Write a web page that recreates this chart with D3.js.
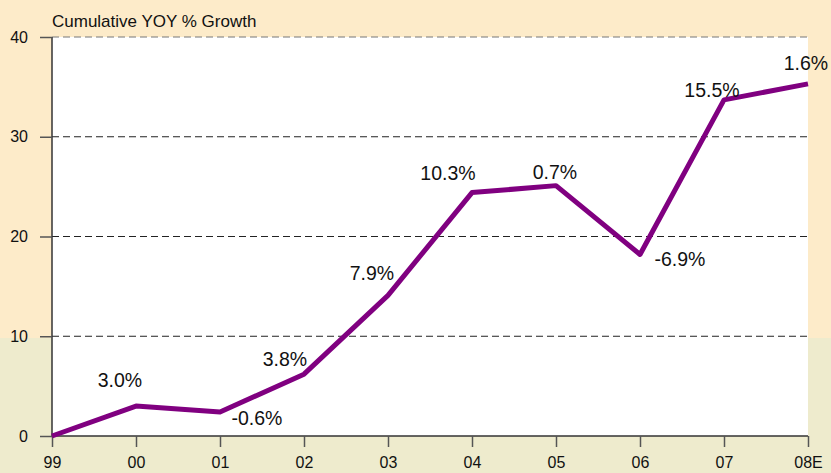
<!DOCTYPE html>
<html>
<head>
<meta charset="utf-8">
<script src="https://cdn.jsdelivr.net/npm/d3@7"></script>
<style>
  body { margin: 0; padding: 0; }
  svg { display: block; font-family: "Liberation Sans", Arial, sans-serif; }
</style>
</head>
<body>
<svg id="chart" width="831" height="473"></svg>
<script>
var years = ["99", "00", "01", "02", "03", "04", "05", "06", "07", "08E"];
var cumulative = [0, 3.0, 2.4, 6.2, 14.1, 24.4, 25.1, 18.2, 33.7, 35.3];
var growthLabels = [null, "3.0%", "-0.6%", "3.8%", "7.9%", "10.3%", "0.7%", "-6.9%", "15.5%", "1.6%"];
var yTicks = [0, 10, 20, 30, 40];

// label offsets from each point (layout only)
var labelOffsets = [null, [-16, -19], [37, 13], [-19, -8], [-16, -15], [-24, -13], [-1, -7], [40, 12], [-12, -3], [-2, -14]];

var svg = d3.select("#chart"),
  margin = { top: 37, right: 23, bottom: 37, left: 52 },
  width = 831 - margin.left - margin.right,
  height = 473 - margin.top - margin.bottom;

// background: peach on top, pale green below
svg.append("rect").attr("width", 831).attr("height", 473).attr("fill", "#fdebc9");
svg.append("rect").attr("x", 0).attr("y", 338).attr("width", 831).attr("height", 135).attr("fill", "#eeebcd");

var x = d3.scalePoint().domain(years).range([0, width]);
var y = d3.scaleLinear().domain([0, 40]).range([height, 0]);

var g = svg.append("g").attr("transform", "translate(" + margin.left + "," + margin.top + ")");

g.append("rect").attr("width", width).attr("height", height).attr("fill", "#fff");

// dashed gridlines
g.append("g")
  .selectAll("line")
  .data(yTicks.filter(function(d) { return d > 0; }))
  .enter().append("line")
    .attr("x1", 0)
    .attr("x2", width)
    .attr("y1", function(d) { return y(d); })
    .attr("y2", function(d) { return y(d); })
    .attr("stroke", function(d) { return d === 40 ? "#777" : "#222"; })
    .attr("stroke-width", 1)
    .attr("stroke-dasharray", "7,4");

var yAxis = g.append("g")
  .call(d3.axisLeft(y).tickValues(yTicks).tickSize(12).tickPadding(12).tickFormat(d3.format("d")));
var xAxis = g.append("g")
  .attr("transform", "translate(0," + height + ")")
  .call(d3.axisBottom(x).tickSize(11).tickPadding(10));

[yAxis, xAxis].forEach(function(a) {
  a.attr("font-size", 16).attr("font-family", "'Liberation Sans', Arial, sans-serif");
  a.select(".domain").attr("stroke", "#333").attr("stroke-width", 1.5);
  a.selectAll(".tick line").attr("stroke", "#555").attr("stroke-width", 1.5);
  a.selectAll(".tick text").attr("fill", "#111");
});
xAxis.select(".domain").attr("d", "M0,0H" + width);
yAxis.select(".domain").attr("d", "M0," + height + "V0");

var line = d3.line()
  .x(function(d, i) { return x(years[i]); })
  .y(function(d) { return y(d); });

g.append("path")
  .datum(cumulative)
  .attr("fill", "none")
  .attr("stroke", "#800080")
  .attr("stroke-width", 5)
  .attr("stroke-linejoin", "round")
  .attr("d", line);

var labelIdx = d3.range(cumulative.length).filter(function(i) { return growthLabels[i]; });

g.append("g")
  .selectAll("text")
  .data(labelIdx)
  .enter().append("text")
    .attr("x", function(i) { return x(years[i]) + labelOffsets[i][0]; })
    .attr("y", function(i) { return y(cumulative[i]) + labelOffsets[i][1]; })
    .attr("text-anchor", "middle")
    .attr("fill", "#111")
    .style("font-size", "19.5px")
    .text(function(i) { return growthLabels[i]; });

svg.append("text")
  .attr("x", 52)
  .attr("y", 27)
  .attr("fill", "#111")
  .style("font-size", "17px")
  .text("Cumulative YOY % Growth");
</script>
</body>
</html>
